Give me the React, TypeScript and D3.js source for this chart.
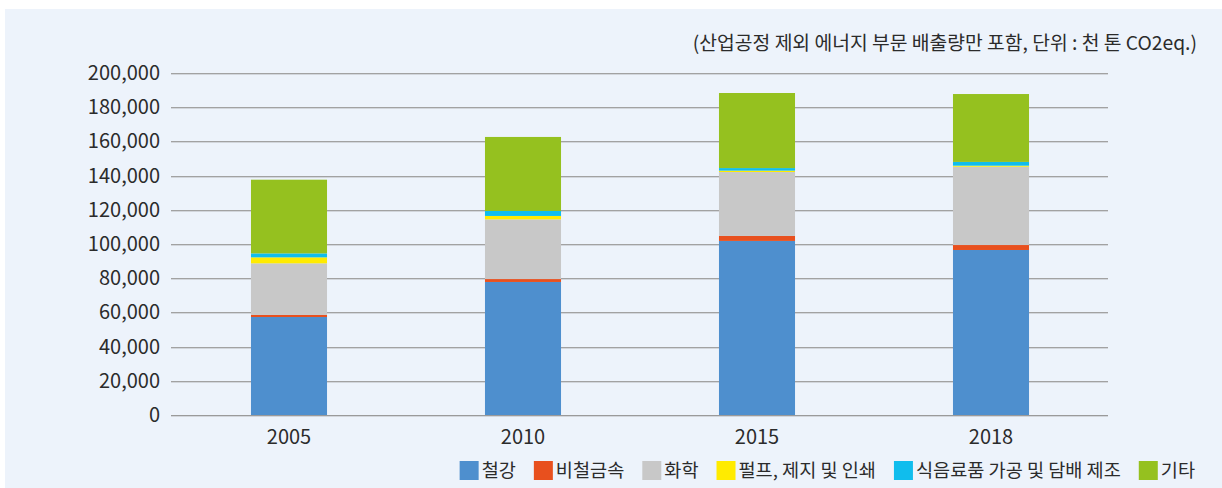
import React, { useEffect, useRef } from "react";
import * as d3 from "d3";

const years = ["2005", "2010", "2015", "2018"];
const seriesNames = ["철강", "비철금속", "화학", "펄프, 제지 및 인쇄", "식음료품 가공 및 담배 제조", "기타"];
const steel = [57300, 77800, 101800, 96500];
const nonFerrous = [1200, 1700, 2900, 2900];
const chemical = [30200, 34900, 37400, 45800];
const pulp = [3500, 2000, 800, 600];
const food = [2300, 2900, 1500, 2200];
const other = [43100, 43300, 43900, 39700];
const colors = ["#4E8FCE", "#E8501E", "#C8C8C8", "#FFEB00", "#10BDED", "#95C11F"];
const yTicks = [0, 20000, 40000, 60000, 80000, 100000, 120000, 140000, 160000, 180000, 200000];
const note = "(산업공정 제외 에너지 부문 배출량만 포함, 단위 : 천 톤 CO2eq.)";

const W = 1222;
const H = 488;
const FONT = "'Noto Sans CJK KR', 'Noto Sans', sans-serif";

export default function App() {
  const ref = useRef<SVGSVGElement | null>(null);

  useEffect(() => {
    const svg = d3.select(ref.current);
    svg.selectAll("*").remove();

    svg.append("rect").attr("x", 5).attr("y", 9).attr("width", W - 5).attr("height", H - 9).attr("fill", "#EDF3FB");

    const x = d3.scaleBand<string>().domain(years).range([172, 1108]).paddingInner(0.675).paddingOuter(0.3375);
    const y = d3.scaleLinear().domain([0, 200000]).range([415, 73]);

    const g = svg.append("g");
    yTicks.forEach((t) => {
      const yy = Math.round(y(t));
      g.append("line").attr("x1", 171).attr("x2", 1108).attr("y1", yy + 0.5).attr("y2", yy + 0.5)
        .attr("stroke", t === 0 ? "#9A9A9A" : "#A2A2A2").attr("stroke-width", 1.2);
      g.append("line").attr("x1", 171).attr("x2", 1108).attr("y1", yy + 1.5).attr("y2", yy + 1.5)
        .attr("stroke", "#D2D6DC").attr("stroke-width", 1);
      g.append("text").attr("x", 160).attr("y", yy + 7).attr("text-anchor", "end")
        .attr("font-family", FONT).attr("font-size", 20).attr("fill", "#2B2B2B")
        .text(d3.format(",")(t));
    });

    const rows = years.map((yr, i) => ({
      year: yr,
      s0: steel[i], s1: nonFerrous[i], s2: chemical[i], s3: pulp[i], s4: food[i], s5: other[i],
    }));
    const keys = ["s0", "s1", "s2", "s3", "s4", "s5"];
    const stack = d3.stack<any>().keys(keys)(rows);

    stack.forEach((layer, li) => {
      svg.append("g").selectAll("rect").data(layer).join("rect")
        .attr("x", (d: any) => x(d.data.year)!)
        .attr("width", x.bandwidth())
        .attr("y", (d: any) => y(d[1]))
        .attr("height", (d: any) => y(d[0]) - y(d[1]))
        .attr("fill", colors[li]);
    });

    years.forEach((yr) => {
      svg.append("text").attr("x", x(yr)! + x.bandwidth() / 2).attr("y", 444).attr("text-anchor", "middle")
        .attr("font-family", FONT).attr("font-size", 20).attr("fill", "#2B2B2B").text(yr);
    });

    svg.append("text").attr("x", 1197).attr("y", 50).attr("text-anchor", "end")
      .attr("font-family", FONT).attr("font-size", 19.3).attr("fill", "#2B2B2B").text(note);

    const lg = svg.append("g");
    const items = seriesNames.map((n, i) => {
      const t = lg.append("text").attr("font-family", FONT).attr("font-size", 18.6).attr("fill", "#2B2B2B").attr("y", 477).text(n);
      const w = (t.node() as SVGTextElement).getComputedTextLength();
      return { t, w, i };
    });
    const sq = 19, gap1 = 3, gap2 = 18;
    let cx = 1195;
    for (let k = items.length - 1; k >= 0; k--) {
      const it = items[k];
      const tx = cx - it.w;
      it.t.attr("x", tx);
      lg.append("rect").attr("x", tx - gap1 - sq).attr("y", 461).attr("width", sq).attr("height", sq).attr("fill", colors[it.i]);
      cx = tx - gap1 - sq - gap2;
    }
  }, []);

  return (
    <svg ref={ref} width={W} height={H} style={{ position: "absolute", left: 0, top: 0, display: "block" }} />
  );
}
